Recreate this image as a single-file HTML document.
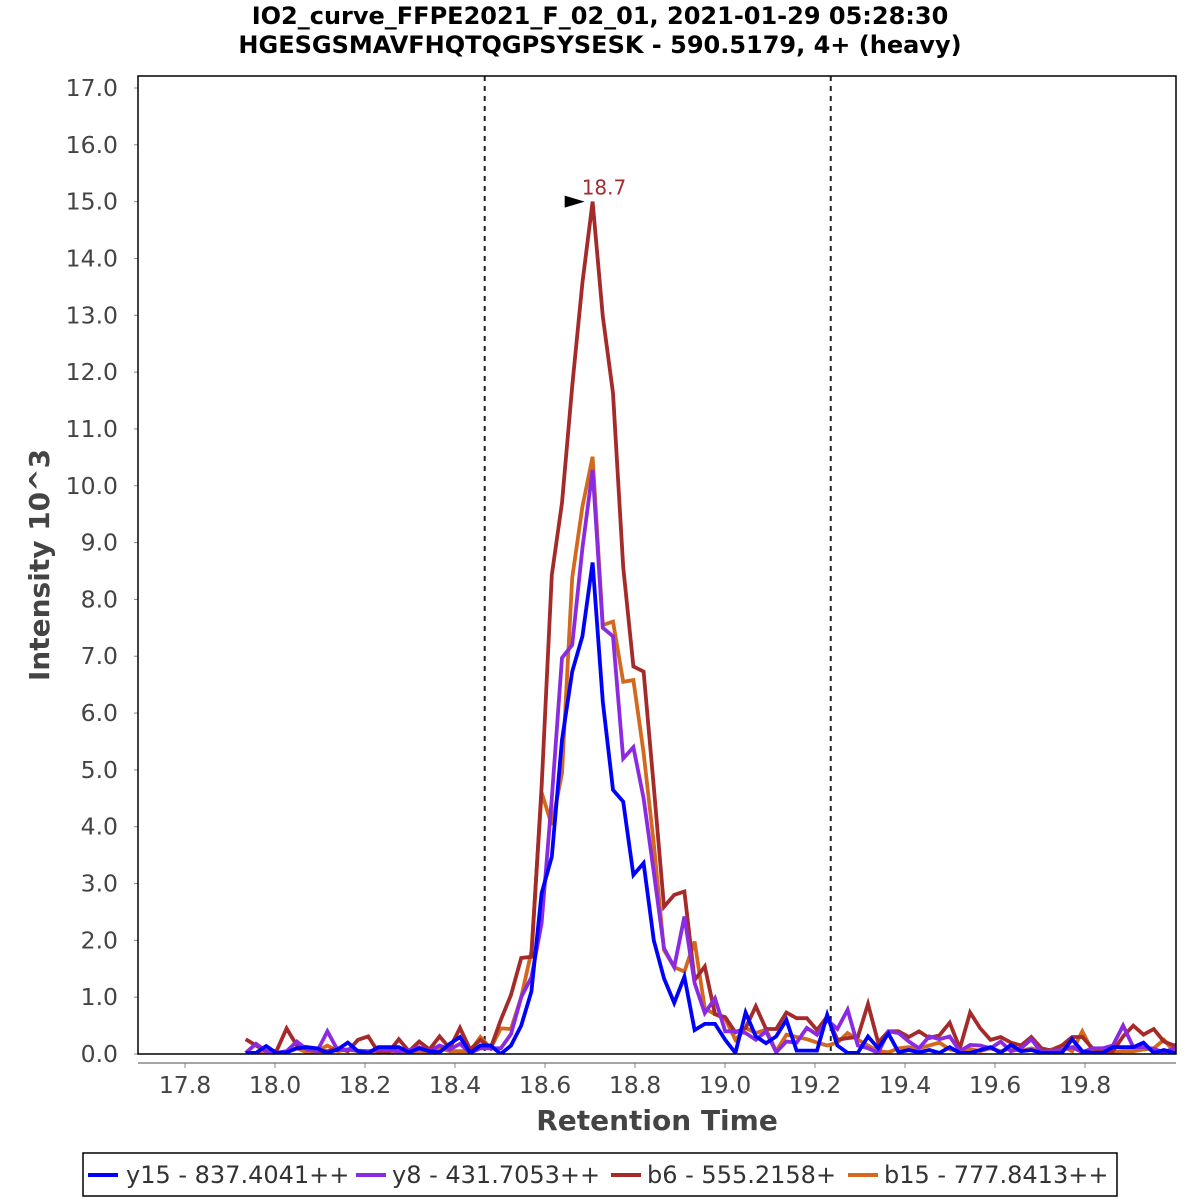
<!DOCTYPE html>
<html><head><meta charset="utf-8"><style>
body{margin:0;background:#fff;font-family:"DejaVu Sans",sans-serif}
svg{display:block}
</style></head><body>
<svg id="chart" width="1200" height="1200" xmlns="http://www.w3.org/2000/svg" font-family="DejaVu Sans, sans-serif">
<text x="600" y="24" text-anchor="middle" font-size="24" font-weight="bold">IO2_curve_FFPE2021_F_02_01, 2021-01-29 05:28:30</text>
<text x="600" y="53" text-anchor="middle" font-size="24" font-weight="bold">HGESGSMAVFHQTQGPSYSESK - 590.5179, 4+ (heavy)</text>
<g id="plot"></g>
<text transform="translate(49,565) rotate(-90)" text-anchor="middle" font-size="28" font-weight="bold" fill="#444">Intensity 10^3</text>
<text x="657" y="1130" text-anchor="middle" font-size="28" font-weight="bold" fill="#444">Retention Time</text>
<g>
<rect x="83" y="1153" width="1034" height="43" fill="#fff" stroke="#000" stroke-width="1.5"/>
<g><line x1="88" y1="1175" x2="118" y2="1175" stroke="#0000ff" stroke-width="4"/><text x="126" y="1183" font-size="24" fill="#333">y15 - 837.4041++</text></g>
<g><line x1="356" y1="1175" x2="386" y2="1175" stroke="#8a2be2" stroke-width="4"/><text x="392" y="1183" font-size="24" fill="#333">y8 - 431.7053++</text></g>
<g><line x1="611" y1="1175" x2="641" y2="1175" stroke="#a52a2a" stroke-width="4"/><text x="647" y="1183" font-size="24" fill="#333">b6 - 555.2158+</text></g>
<g><line x1="848" y1="1175" x2="878" y2="1175" stroke="#d2691e" stroke-width="4"/><text x="884" y="1183" font-size="24" fill="#333">b15 - 777.8413++</text></g>
</g>
</svg>
<script>
const rtStart = 17.935;
const rtStep = 0.02267;
const seriesNames = ["b15 - 777.8413++","b6 - 555.2158+","y8 - 431.7053++","y15 - 837.4041++"];
const seriesColors = ["#d2691e","#a52a2a","#8a2be2","#0000ff"];
const b15Values = [0,0,0.02,0.02,0.05,0.1,0.03,0.05,0.15,0.05,0.08,0.05,0.03,0.03,0.03,0.02,0.03,0.05,0.03,0.1,0.05,0.05,0.05,0.3,
0.1,0.45,0.44,1.0,1.8,4.6,4.03,4.94,8.38,9.63,10.51,7.55,7.61,6.55,6.58,5.3,3.7,1.83,1.53,1.45,1.98,0.8,0.7,0.62,0.25,
0.46,0.37,0.43,0.05,0.34,0.3,0.26,0.2,0.15,0.2,0.37,0.25,0.15,0.05,0.03,0.1,0.12,0.1,0.15,0.2,
0.08,0.05,0.09,0.05,0.1,0.05,0.1,0.05,0.1,0.05,0.08,0.15,0.05,0.4,0.05,0.05,0.03,0.05,0.05,0.08,0.1,0.25,0.05,0.05];
const b6Values = [0.26,0.15,0.05,0.05,0.45,0.15,0.12,0.05,0.05,0.1,0.05,0.25,0.31,0.03,0.03,0.26,0.05,0.22,0.08,0.31,0.1,0.46,0.08,0.25,
0.1,0.6,1.04,1.69,1.71,4.7,8.43,9.7,11.75,13.57,15.0,12.98,11.63,8.57,6.82,6.73,4.7,2.59,2.8,2.86,1.3,1.54,0.7,0.65,0.38,
0.46,0.84,0.44,0.44,0.73,0.63,0.63,0.42,0.66,0.25,0.28,0.3,0.88,0.2,0.4,0.4,0.3,0.4,0.28,0.33,
0.55,0.1,0.73,0.45,0.25,0.3,0.2,0.15,0.3,0.1,0.06,0.15,0.3,0.3,0.1,0.05,0.05,0.31,0.5,0.34,0.44,0.22,0.15,0.22];
const y8Values = [0.02,0.18,0.05,0.02,0.05,0.22,0.08,0.05,0.4,0.07,0.08,0.06,0.05,0.07,0.07,0.05,0.07,0.12,0.05,0.15,0.08,0.18,0.02,0.1,
0.1,0.1,0.35,1.0,1.35,2.3,4.5,6.97,7.2,8.9,10.28,7.5,7.35,5.2,5.4,4.5,3.2,1.86,1.53,2.42,1.25,0.72,0.98,0.4,0.4,
0.37,0.25,0.4,0.03,0.22,0.2,0.46,0.34,0.6,0.44,0.78,0.15,0.1,0.02,0.4,0.37,0.22,0.1,0.31,0.26,
0.31,0.05,0.16,0.15,0.1,0.22,0.05,0.1,0.26,0.03,0.06,0.07,0.12,0.03,0.1,0.1,0.15,0.5,0.12,0.12,0.09,0.03,0.1,0.05];
const y15Values = [0.02,0.02,0.14,0.02,0.03,0.1,0.12,0.1,0.02,0.08,0.2,0.05,0.02,0.12,0.12,0.12,0.03,0.1,0.05,0.03,0.18,0.3,0.02,0.15,
0.15,0.0,0.15,0.5,1.1,2.83,3.47,5.53,6.73,7.35,8.65,6.2,4.65,4.44,3.15,3.36,2.0,1.33,0.9,1.36,0.42,0.53,0.53,0.25,0.02,
0.73,0.31,0.19,0.31,0.6,0.06,0.06,0.06,0.69,0.15,0.02,0.02,0.31,0.1,0.36,0.03,0.07,0.03,0.07,0.02,
0.12,0.02,0.02,0.07,0.12,0.02,0.16,0.05,0.07,0.02,0.02,0.02,0.26,0.05,0.02,0.02,0.12,0.12,0.12,0.2,0.02,0.07,0.02,0.02];
const yTicks = [0,1,2,3,4,5,6,7,8,9,10,11,12,13,14,15,16,17];
const xTicks = [17.8,18.0,18.2,18.4,18.6,18.8,19.0,19.2,19.4,19.6,19.8];
const boundaryRTs = [18.466, 19.235];
const peakRT = 18.706;
const peakValue = 15.0;
const peakLabel = "18.7";

const NS="http://www.w3.org/2000/svg";
const L=138,R=1176,T=76,B=1054;
function xs(t){return 275+(t-18.0)*450;}
function ys(v){return B-v*(B-88)/17;}
function mk(tag,attrs,parent){const e=document.createElementNS(NS,tag);for(const k in attrs)e.setAttribute(k,attrs[k]);parent.appendChild(e);return e;}
const plot=document.getElementById('plot');
const bg=mk('rect',{x:L,y:T,width:R-L,height:B-T,fill:'#fff'},plot);


const defs=mk('defs',{},plot);
const cp=mk('clipPath',{id:'clip'},defs);
mk('rect',{x:L,y:T,width:R-L,height:B-T},cp);
yTicks.forEach(v=>{
  const t=mk('text',{x:118,y:ys(v)+8,'text-anchor':'end','font-size':23.5,fill:'#444'},plot);
  t.textContent=v.toFixed(1);
  
  
  mk('line',{x1:L-4,x2:L,y1:ys(v),y2:ys(v),stroke:'#888'},plot);
});
const xa=mk('line',{x1:L,x2:R,y1:1063,y2:1063,stroke:'#888','stroke-width':1.5},plot);


xTicks.forEach(v=>{
  mk('line',{x1:xs(v),x2:xs(v),y1:1063,y2:1068,stroke:'#888'},plot);
  const t=mk('text',{x:xs(v),y:1093,'text-anchor':'middle','font-size':23.5,fill:'#444'},plot);
  t.textContent=v.toFixed(1);
  
  
});
const g=mk('g',{'clip-path':'url(#clip)'},plot);
boundaryRTs.forEach(rt=>{
  const l=mk('line',{x1:xs(rt),x2:xs(rt),y1:T,y2:B,stroke:'#222','stroke-width':2,'stroke-dasharray':'5,5'},g);
  
  
});
const allSeries=[b15Values,b6Values,y8Values,y15Values];
const seriesKeys=['b15','b6','y8','y15'];
allSeries.forEach((vals,si)=>{
  const pts=vals.map((v,i)=>xs(rtStart+i*rtStep).toFixed(1)+','+ys(v).toFixed(1)).join(' ');
  const p=mk('polyline',{points:pts,fill:'none',stroke:seriesColors[si],'stroke-width':3.8,'stroke-linejoin':'miter'},g);
  
  
});
const bd=mk('rect',{x:L,y:T,width:R-L,height:B-T,fill:'none',stroke:'#000','stroke-width':1.5},plot);


const px=xs(peakRT),py=ys(peakValue);
const arr=mk('polygon',{points:`${px-28},${py-6} ${px-8},${py} ${px-28},${py+6}`,fill:'#000'},plot);


const pl=mk('text',{x:px-11,y:py-7,'font-size':20,fill:'#a52a2a'},plot);
pl.textContent=peakLabel;


</script>
</body></html>
